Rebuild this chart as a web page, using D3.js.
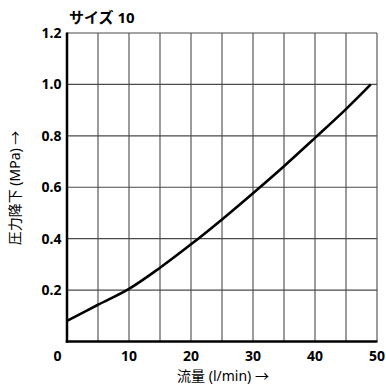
<!DOCTYPE html>
<html>
<head>
<meta charset="utf-8">
<script src="https://cdn.jsdelivr.net/npm/d3@7"></script>
<style>
  body { margin: 0; background: #fff; }
  svg { display: block; font-family: "Noto Sans", "Noto Sans CJK JP", sans-serif; }
</style>
</head>
<body>
<svg id="chart"></svg>
<script>
// flow (l/min) vs pressure drop (MPa), size 10
const flow = [0, 5, 10, 15, 20, 25, 30, 35, 40, 45, 49];
const pressure = [0.08, 0.143, 0.205, 0.287, 0.378, 0.475, 0.577, 0.682, 0.792, 0.904, 1.0];
const xTicks = [0, 10, 20, 30, 40, 50];
const yTicks = [0.2, 0.4, 0.6, 0.8, 1.0, 1.2];
const xGrid = d3.range(5, 51, 5);
const yGrid = [0.2, 0.4, 0.6, 0.8, 1.0, 1.2];

const width = 386, height = 385;
const margin = {left: 67, right: 9, top: 33, bottom: 43.5};

const svg = d3.select("#chart")
    .attr("width", width)
    .attr("height", height);

const x = d3.scaleLinear()
    .domain([0, 50])
    .range([margin.left, width - margin.right]);
const y = d3.scaleLinear()
    .domain([0, 1.2])
    .range([height - margin.bottom, margin.top]);

// grid
const grid = svg.append("g")
    .attr("stroke", "#4a4a4a")
    .attr("stroke-width", 1.1);

grid.selectAll("line.v")
    .data(xGrid)
    .join("line")
    .attr("class", "v")
    .attr("x1", d => x(d)).attr("x2", d => x(d))
    .attr("y1", y(0)).attr("y2", y(1.2));

grid.selectAll("line.h")
    .data(yGrid)
    .join("line")
    .attr("class", "h")
    .attr("x1", x(0)).attr("x2", x(50))
    .attr("y1", d => y(d)).attr("y2", d => y(d));

// axes lines
svg.append("line")
    .attr("x1", x(0)).attr("x2", x(0))
    .attr("y1", y(0) + 1.2).attr("y2", y(1.2) - 0.5)
    .attr("stroke", "#000").attr("stroke-width", 2.5);
svg.append("line")
    .attr("x1", x(0) - 1.2).attr("x2", x(50) + 0.5)
    .attr("y1", y(0)).attr("y2", y(0))
    .attr("stroke", "#000").attr("stroke-width", 2.5);

// curve
const line = d3.line()
    .x((d, i) => x(flow[i]))
    .y(d => y(d))
    .curve(d3.curveCatmullRom);

svg.append("path")
    .datum(pressure)
    .attr("d", line)
    .attr("fill", "none")
    .attr("stroke", "#000")
    .attr("stroke-width", 2.6);

// tick labels
svg.append("g")
    .selectAll("text")
    .data(xTicks)
    .join("text")
    .attr("x", d => d === 0 ? x(d) - 9.5 : x(d))
    .attr("y", 361)
    .attr("text-anchor", "middle")
    .style("font-size", "14px")
    .style("font-weight", "bold")
    .text(d => d);

svg.append("g")
    .selectAll("text")
    .data(yTicks)
    .join("text")
    .attr("x", 61.5)
    .attr("y", d => y(d) + 5)
    .attr("text-anchor", "end")
    .style("font-size", "14px")
    .style("font-weight", "bold")
    .text(d => d.toFixed(1));

// title
svg.append("text")
    .attr("x", 69)
    .attr("y", 23)
    .style("font-size", "15px")
    .style("font-weight", "bold")
    .text("サイズ 10");

// axis titles
svg.append("text")
    .attr("x", 223)
    .attr("y", 381)
    .attr("text-anchor", "middle")
    .style("font-size", "14px")
    .text("流量 (l/min) →");

svg.append("text")
    .attr("transform", "translate(20,188) rotate(-90)")
    .attr("text-anchor", "middle")
    .style("font-size", "14px")
    .text("圧力降下 (MPa) →");
</script>
</body>
</html>
